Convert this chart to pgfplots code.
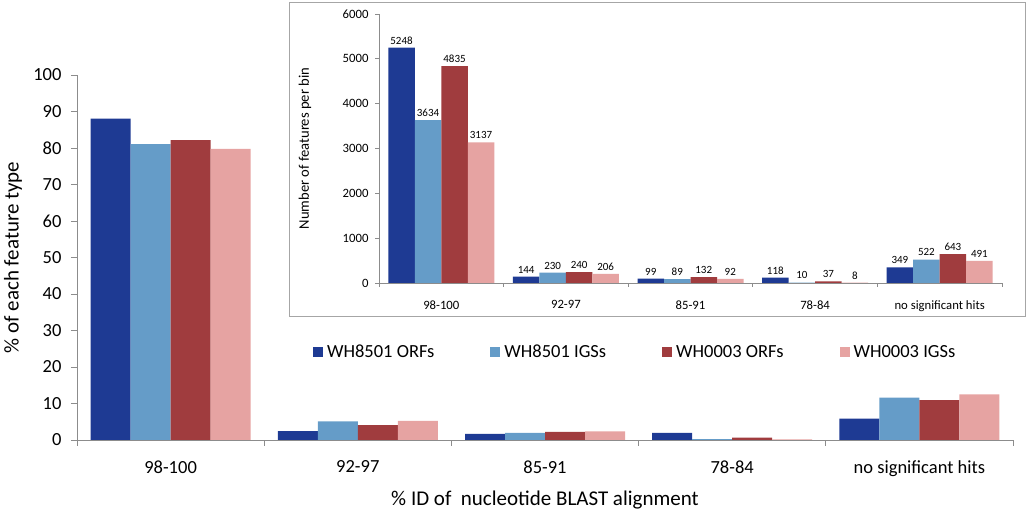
\documentclass[border=0pt]{standalone}
\usepackage{fontspec}
\setmainfont{Carlito}
\usepackage{pgfplots}
\pgfplotsset{compat=1.18}
\definecolor{c1}{RGB}{30,58,147}
\definecolor{c2}{RGB}{101,156,200}
\definecolor{c3}{RGB}{160,60,62}
\definecolor{c4}{RGB}{230,163,162}
\definecolor{axgray}{RGB}{140,140,140}
\pgfplotsset{sqlegend/.style={legend image code/.code={\fill[##1] (0pt,-5pt) rectangle (10pt,5pt);}}}
\begin{document}
\begin{tikzpicture}[x=1pt,y=1pt]
\useasboundingbox (-77,-76) rectangle (951,440);
\coordinate (mainorigin) at (0,0);
\coordinate (insetorigin) at (302,157);
\begin{axis}[
  at={(mainorigin)}, anchor=south west,
  scale only axis, width=936pt, height=365pt,
  xmin=-0.5, xmax=4.5, ymin=0, ymax=100,
  axis lines=left, axis line style={-, axgray, line width=0.9pt},
  ytick={0,10,...,100},
  xtick={0,1,2,3,4},
  xticklabels={98-100,92-97,85-91,78-84,no significant hits},
  minor xtick={-0.5,0.5,1.5,2.5,3.5,4.5},
  major x tick style={draw=none},
  tick align=outside, major tick length=6pt, minor tick length=6pt,
  tick style={axgray, line width=0.9pt},
  /pgf/number format/assume math mode=true,
  /pgf/number format/1000 sep={},
  tick label style={font=\fontsize{18.5}{22}\selectfont, black},
  xticklabel style={yshift=-11pt},
  yticklabel style={xshift=-6pt},
  ylabel={\% of each feature type},
  ylabel style={at={(axis description cs:-0.0684,0.5)}, anchor=center, font=\fontsize{21}{25}\selectfont},
  xlabel={\% ID of\ \ nucleotide BLAST alignment},
  xlabel style={at={(axis description cs:0.5,0)}, anchor=center, yshift=-60pt, font=\fontsize{21}{25}\selectfont},
  ybar=0pt, bar width=40pt,
  legend style={at={(axis description cs:0.252,0.241)}, anchor=west, draw=none, fill=none, inner sep=0pt,
    font=\fontsize{18.5}{22}\selectfont, /tikz/every even column/.append style={column sep=54pt},
    /tikz/every odd column/.append style={column sep=2pt}},
  legend columns=4,
]
\addplot[fill=c1, draw=none, sqlegend] coordinates {(0,88.08) (1,2.42) (2,1.66) (3,1.98) (4,5.86)};
\addplot[fill=c2, draw=none, sqlegend] coordinates {(0,81.03) (1,5.13) (2,1.98) (3,0.22) (4,11.64)};
\addplot[fill=c3, draw=none, sqlegend] coordinates {(0,82.13) (1,4.08) (2,2.24) (3,0.63) (4,10.92)};
\addplot[fill=c4, draw=none, sqlegend] coordinates {(0,79.74) (1,5.24) (2,2.34) (3,0.20) (4,12.48)};
\legend{WH8501 ORFs, WH8501 IGSs, WH0003 ORFs, WH0003 IGSs}
\end{axis}
\draw[fill=white, draw=black!35, line width=0.8pt] (212,124) rectangle (948,438);
\begin{axis}[
  at={(insetorigin)}, anchor=south west,
  scale only axis, width=623pt, height=269pt,
  xmin=-0.5, xmax=4.5, ymin=0, ymax=6000,
  axis lines=left, axis line style={-, axgray, line width=0.7pt},
  ytick={0,1000,...,6000},
  xtick={0,1,2,3,4},
  xticklabels={98-100,92-97,85-91,78-84,no significant hits},
  minor xtick={-0.5,0.5,1.5,2.5,3.5,4.5},
  major x tick style={draw=none},
  tick align=outside, major tick length=4pt, minor tick length=4pt,
  tick style={axgray, line width=0.7pt},
  /pgf/number format/assume math mode=true,
  /pgf/number format/1000 sep={},
  scaled y ticks=false,
  tick label style={font=\fontsize{12.7}{15}\selectfont, black},
  xticklabel style={yshift=-10pt},
  yticklabel style={xshift=-3pt},
  ylabel={Number of features per bin},
  ylabel style={at={(axis description cs:-0.1188,0.5)}, anchor=center, font=\fontsize{14.6}{17}\selectfont},
  ybar=0pt, bar width=26.5pt,
  nodes near coords,
  every node near coord/.append style={font=\fontsize{11}{13}\selectfont, black},
]
\addplot[fill=c1, draw=none] coordinates {(0,5248) (1,144) (2,99) (3,118) (4,349)};
\addplot[fill=c2, draw=none] coordinates {(0,3634) (1,230) (2,89) (3,10) (4,522)};
\addplot[fill=c3, draw=none] coordinates {(0,4835) (1,240) (2,132) (3,37) (4,643)};
\addplot[fill=c4, draw=none] coordinates {(0,3137) (1,206) (2,92) (3,8) (4,491)};
\end{axis}
\end{tikzpicture}
\end{document}
